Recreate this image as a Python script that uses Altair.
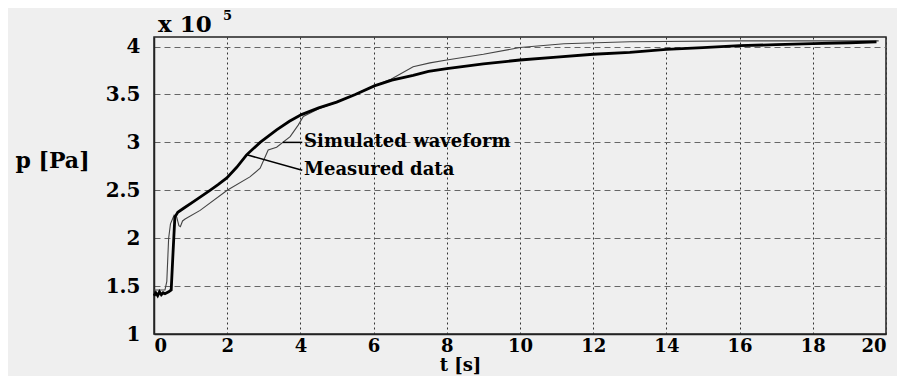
import altair as alt
import pandas as pd

# Measured data (thick curve)
meas_t = [0.0, 0.05, 0.1, 0.15, 0.2, 0.25, 0.3, 0.4, 0.47, 0.52, 0.57, 0.65, 0.8, 1.07, 1.3, 1.53,
          1.75, 1.99, 2.26, 2.53, 2.9, 3.35, 3.7, 4.03, 4.5, 4.99, 5.5, 6.02, 6.5, 7.08, 7.5, 8.0,
          9.0, 10.0, 11.0, 12.0, 13.0, 14.0, 15.0, 16.0, 17.0, 18.0, 19.0, 19.74]
meas_p = [1.40, 1.43, 1.40, 1.44, 1.41, 1.43, 1.42, 1.44, 1.46, 1.85, 2.22, 2.27, 2.31, 2.38, 2.44, 2.50,
          2.56, 2.63, 2.74, 2.87, 3.00, 3.13, 3.22, 3.29, 3.36, 3.42, 3.50, 3.59, 3.65, 3.70, 3.74, 3.77,
          3.82, 3.86, 3.89, 3.92, 3.94, 3.97, 3.99, 4.01, 4.02, 4.03, 4.04, 4.05]

# Simulated waveform (thin curve)
sim_t = [0.0, 0.3, 0.35, 0.40, 0.45, 0.55, 0.62, 0.68, 0.72, 0.78, 0.85, 1.26, 2.0, 2.62, 2.9, 3.12,
         3.35, 3.72, 3.94, 4.08, 4.5, 5.0, 6.02, 6.45, 7.08, 7.54, 8.0, 9.0, 10.0, 11.2, 13.0, 16.0, 19.8]
sim_p = [1.46, 1.46, 1.55, 2.00, 2.15, 2.24, 2.22, 2.13, 2.12, 2.18, 2.20, 2.29, 2.50, 2.64, 2.73, 2.92,
         2.95, 3.06, 3.18, 3.27, 3.35, 3.42, 3.59, 3.655, 3.79, 3.83, 3.86, 3.92, 3.99, 4.03, 4.05, 4.06, 4.06]

x_ticks = [0, 2, 4, 6, 8, 10, 12, 14, 16, 18, 20]
y_ticks = [1, 1.5, 2, 2.5, 3, 3.5, 4]

ann_text = ["Simulated  waveform", "Measured data"]
ann_tx = [4.1, 4.1]
ann_ty = [3.0, 2.71]
lead_t1 = [3.52, 2.54]
lead_p1 = [3.0, 2.87]
lead_t2 = [4.05, 4.05]
lead_p2 = [3.0, 2.71]

FONT = "DejaVu Serif"

meas = pd.DataFrame({"t": meas_t, "p": meas_p})
sim = pd.DataFrame({"t": sim_t, "p": sim_p})
ann = pd.DataFrame({"text": ann_text, "t": ann_tx, "p": ann_ty,
                    "t1": lead_t1, "p1": lead_p1, "t2": lead_t2, "p2": lead_p2})

xs = alt.Scale(domain=[0, 20], nice=False, zero=False)
ys = alt.Scale(domain=[1, 4.1], nice=False, zero=False)

x_axis = alt.Axis(values=x_ticks, title="t [s]", titleFont=FONT, titleFontSize=18, titleFontWeight="bold",
                  titleColor="black", titleX=306, titleY=31, titleBaseline="middle",
                  labelFont=FONT, labelFontSize=18, labelFontWeight="bold", labelColor="black",
                  labelPadding=3, ticks=False, domainColor="#222", domainWidth=1.5,
                  grid=True, gridColor="#333", gridDash=[2, 3], gridWidth=1)
y_axis = alt.Axis(values=y_ticks, format="~g", title="p [Pa]", titleFont=FONT, titleFontSize=22,
                  titleFontWeight="bold", titleColor="black", titleAngle=0, titleAlign="center",
                  titleBaseline="middle", titleX=-102, titleY=123,
                  labelFont=FONT, labelFontSize=20, labelFontWeight="bold", labelColor="black",
                  labelPadding=14, ticks=False, domainColor="#222", domainWidth=1.5,
                  grid=True, gridColor="#666", gridDash=[6, 4], gridWidth=1)

thin = alt.Chart(sim).mark_line(color="#444", strokeWidth=1.1).encode(
    x=alt.X("t:Q", scale=xs, axis=x_axis), y=alt.Y("p:Q", scale=ys, axis=y_axis))
thick = alt.Chart(meas).mark_line(color="black", strokeWidth=2.8).encode(
    x=alt.X("t:Q", scale=xs), y=alt.Y("p:Q", scale=ys))
leaders = alt.Chart(ann).mark_rule(color="black", strokeWidth=1.5).encode(
    x="t1:Q", y="p1:Q", x2="t2:Q", y2="p2:Q")
labels = alt.Chart(ann).mark_text(align="left", baseline="middle", font=FONT, fontSize=18,
                                  fontWeight="bold", color="black").encode(
    x="t:Q", y="p:Q", text="text:N")
exp_base = alt.Chart(ann.head(1)).mark_text(align="left", baseline="alphabetic", font=FONT, fontSize=23,
                                            fontWeight="bold", color="black").encode(
    x=alt.value(4), y=alt.value(-5), text=alt.value("x 10"))
exp_pow = alt.Chart(ann.head(1)).mark_text(align="left", baseline="alphabetic", font=FONT, fontSize=13,
                                           fontWeight="bold", color="black").encode(
    x=alt.value(69), y=alt.value(-17), text=alt.value("5"))

chart = alt.layer(thin, thick, leaders, labels, exp_base, exp_pow).properties(
    width=732, height=297,
    autosize=alt.AutoSizeParams(type="none"),
    padding={"left": 146, "top": 29, "right": 11, "bottom": 42},
    background="#efefef",
).configure_view(stroke="#222", strokeWidth=1.5)

chart.save("out.html", embed_options={"renderer": "svg", "actions": False})
